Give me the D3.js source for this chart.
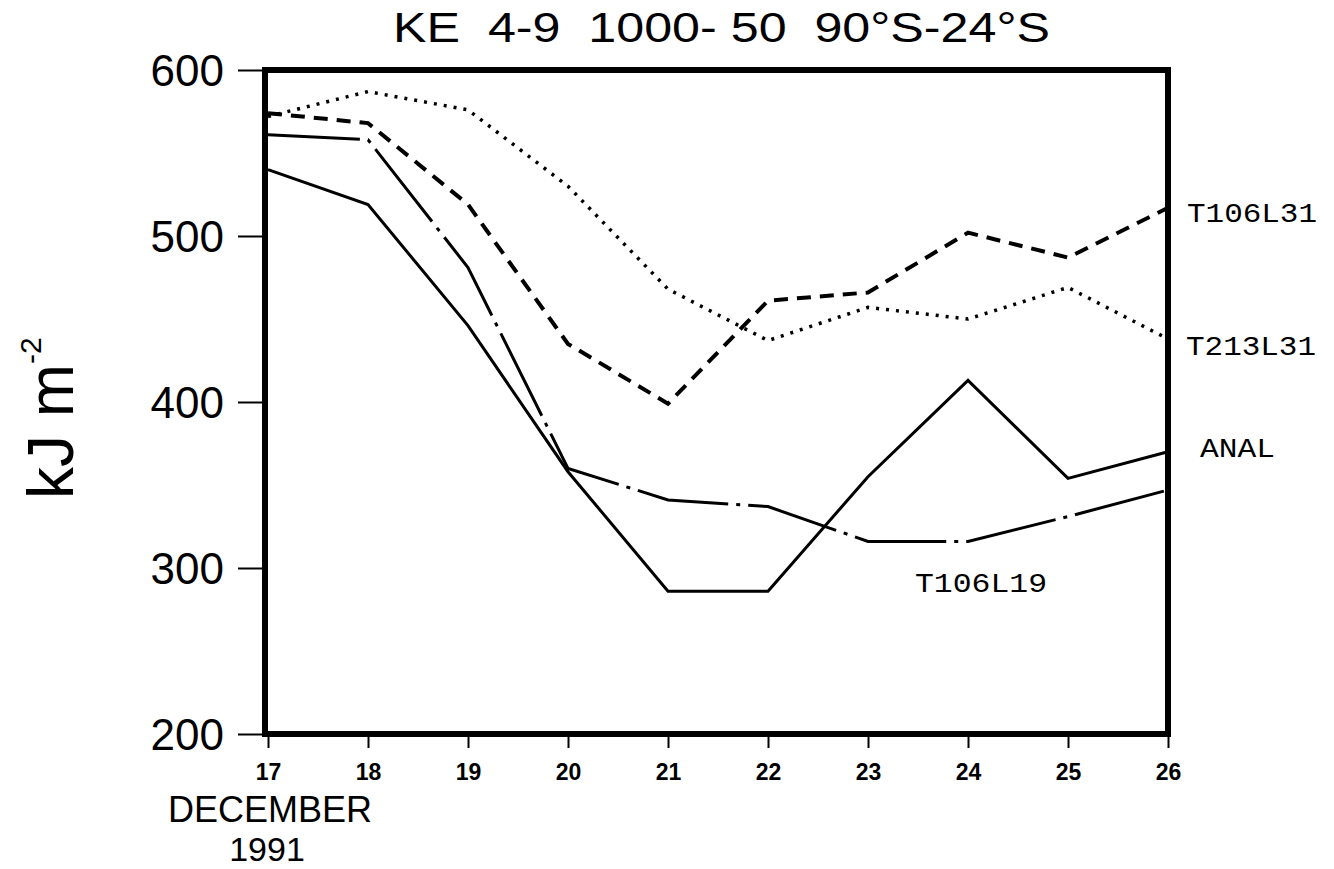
<!DOCTYPE html>
<html>
<head>
<meta charset="utf-8">
<script src="https://cdn.jsdelivr.net/npm/d3@7"></script>
<style>
  html, body { margin: 0; padding: 0; background: #fff; }
  svg { display: block; }
</style>
</head>
<body>
<script>
// Days of December 1991 on the horizontal axis
const days = [17, 18, 19, 20, 21, 22, 23, 24, 25, 26];
const yTicks = [200, 300, 400, 500, 600];

// Kinetic energy (kJ m^-2), wavenumbers 4-9, 1000-50 hPa, 90S-24S
const anal    = [540, 519, 446, 358, 286, 286, 355, 413, 354, 370];
const t106l19 = [561, 558, 481, 360, 341, 337, 316, 316, 331, 347];
const t106l31 = [574, 568, 519, 435, 399, 461, 466, 502, 487, 517];
const t213l31 = [572, 587, 576, 530, 468, 437, 457, 450, 469, 438];

const seriesNames = ["ANAL", "T106L19", "T106L31", "T213L31"];

const W = 1334, H = 869;
const plotL = 268, plotR = 1168, plotT = 70, plotB = 734;

const svg = d3.select("body").append("svg")
  .attr("width", W).attr("height", H);

const x = d3.scaleLinear().domain([17, 26]).range([plotL, plotR]);
const y = d3.scaleLinear().domain([200, 600]).range([plotB, plotT]);

// Title
svg.append("text")
  .attr("x", 393).attr("y", 42)
  .attr("textLength", 657).attr("lengthAdjust", "spacingAndGlyphs")
  .style("white-space", "pre")
  .attr("font-family", "Liberation Sans, Arial, sans-serif")
  .attr("font-size", 42)
  .text("KE  4-9  1000- 50  90°S-24°S");

// Y axis ticks (outside, to the left)
const yAxis = d3.axisLeft(y).tickValues(yTicks).tickSize(30).tickPadding(14);
const gy = svg.append("g").attr("transform", `translate(${plotL},0)`).call(yAxis);
gy.select(".domain").remove();
gy.selectAll(".tick line").attr("stroke", "#000").attr("stroke-width", 2);
gy.selectAll(".tick text")
  .attr("font-family", "Liberation Sans, Arial, sans-serif")
  .attr("font-size", 44).attr("fill", "#000").attr("dy", "0.36em");

// X axis ticks (below the frame)
const xAxis = d3.axisBottom(x).tickValues(days).tickSize(14).tickPadding(16)
  .tickFormat(d3.format("d"));
const gx = svg.append("g").attr("transform", `translate(0,${plotB})`).call(xAxis);
gx.select(".domain").remove();
gx.selectAll(".tick line").attr("stroke", "#000").attr("stroke-width", 2);
gx.selectAll(".tick text")
  .attr("font-family", "Liberation Sans, Arial, sans-serif")
  .attr("font-weight", "bold")
  .attr("font-size", 23).attr("fill", "#000");

// Month and year under the first day
svg.append("text").attr("x", 270).attr("y", 822).attr("text-anchor", "middle")
  .attr("font-family", "Liberation Sans, Arial, sans-serif").attr("font-size", 36)
  .text("DECEMBER");
svg.append("text").attr("x", 267).attr("y", 861).attr("text-anchor", "middle")
  .attr("font-family", "Liberation Sans, Arial, sans-serif").attr("font-size", 34)
  .text("1991");

// Y axis title
const yl = svg.append("text")
  .attr("transform", "translate(73,499) rotate(-90)")
  .attr("font-family", "Liberation Sans, Arial, sans-serif")
  .attr("font-size", 64);
yl.append("tspan").text("kJ m");
yl.append("tspan").attr("font-size", 30).attr("dy", -32).text("-2");

// Series lines
const line = d3.line().x((d, i) => x(days[i])).y(d => y(d));
const styles = [
  { data: anal,    dash: null,          w: 3 },
  { data: t106l19, dash: "92,8,4,8",    w: 3 },
  { data: t106l31, dash: "14,9",        w: 4 },
  { data: t213l31, dash: "3,7",         w: 3.5 }
];
styles.forEach(s => {
  svg.append("path")
    .datum(s.data)
    .attr("d", line)
    .attr("fill", "none")
    .attr("stroke", "#000")
    .attr("stroke-width", s.w)
    .attr("stroke-linejoin", "miter")
    .attr("stroke-dasharray", s.dash);
});

// Frame
svg.append("rect")
  .attr("x", plotL - 3).attr("y", plotT)
  .attr("width", plotR - plotL + 3).attr("height", plotB - plotT)
  .attr("fill", "none").attr("stroke", "#000").attr("stroke-width", 6);

// Series labels
const labelFont = "Courier New, Liberation Mono, monospace";
const labels = [
  { name: seriesNames[2], x: 1187, y: 222, len: 130 },
  { name: seriesNames[3], x: 1186, y: 355, len: 130 },
  { name: seriesNames[0], x: 1200, y: 457, len: 75 },
  { name: seriesNames[1], x: 915,  y: 592, len: 132 }
];
labels.forEach(l => {
  svg.append("text")
    .attr("x", l.x).attr("y", l.y)
    .attr("textLength", l.len).attr("lengthAdjust", "spacingAndGlyphs")
    .attr("font-family", labelFont).attr("font-size", 27)
    .text(l.name);
});
</script>
</body>
</html>
